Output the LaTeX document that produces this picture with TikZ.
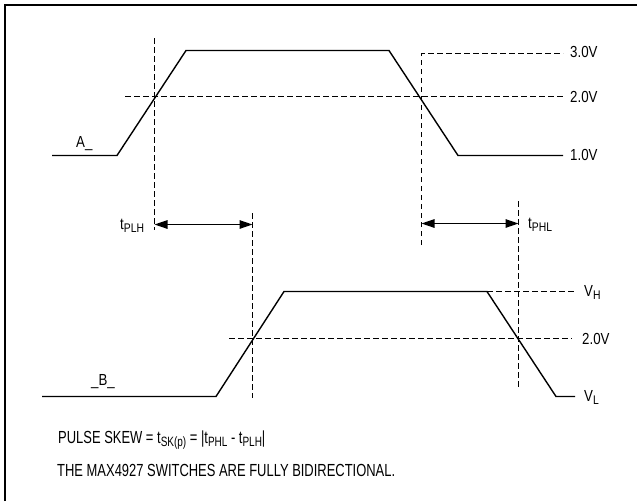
\documentclass[tikz,border=0pt]{standalone}
\usepackage{fontspec}
\setmainfont{Liberation Sans}
\newfontfamily\labfont[FakeStretch=0.83]{Liberation Sans}
\newfontfamily\notefont[FakeStretch=0.74]{Liberation Sans}
\usetikzlibrary{arrows.meta}
\newcommand\lsub[1]{\raisebox{-3pt}{\fontsize{12.5}{13}\selectfont #1}}
\newcommand\nsub[1]{\raisebox{-3pt}{\fontsize{13.5}{14}\selectfont #1}}
\tikzset{
  wave/.style={line width=1.4pt, line join=miter},
  guide/.style={line width=1.5pt, dash pattern=on 5.5pt off 3.5pt},
  frameline/.style={line width=2pt},
  span/.style={line width=1.3pt, {Triangle[length=13pt,width=8.5pt]}-{Triangle[length=13pt,width=8.5pt]}},
  lab/.style={anchor=base west, inner sep=0pt, font=\labfont\fontsize{16}{17}\selectfont},
  note/.style={anchor=base west, inner sep=0pt, font=\notefont\fontsize{17.5}{18}\selectfont},
}
\begin{document}
\begin{tikzpicture}[x=1pt,y=-1pt]
\useasboundingbox (0,0) rectangle (637,501);
% frame (top and left edges)
\draw[frameline] (5,501) -- (5,5) -- (637,5);
% signal A
\draw[wave] (52,155.5) -- (117,155.5) -- (186,50.5) -- (389,50.5) -- (458,155.5) -- (563,155.5);
% signal B
\draw[wave] (42,396.5) -- (216,396.5) -- (284,291.5) -- (487,291.5) -- (556,396.5) -- (575,396.5);
% guides for A
\draw[guide] (125,96.5) -- (563,96.5);
\draw[guide] (421.5,245) -- (421.5,53.5) -- (563,53.5);
\draw[guide] (154.5,38) -- (154.5,230);
% guides for B
\draw[guide] (252.5,213) -- (252.5,398);
\draw[guide] (518.5,201) -- (518.5,387);
\draw[guide] (487,291.5) -- (575,291.5);
\draw[guide] (229,338.5) -- (572,338.5);
% timing arrows
\coordinate (plhA) at (154.5,224.5);
\coordinate (plhB) at (252.5,224.5);
\coordinate (phlA) at (421.5,223.5);
\coordinate (phlB) at (518.5,223.5);
\draw[span] (plhA) -- (plhB);
\draw[span] (phlA) -- (phlB);
% labels
\node[lab] (v3) at (570,57.5) {3.0V};
\node[lab] (v2a) at (570,102) {2.0V};
\node[lab] (v1) at (570,160.5) {1.0V};
\node[lab] (vh) at (584,296.5) {V\lsub{H}};
\node[lab] (v2b) at (582,344.5) {2.0V};
\node[lab] (vl) at (584,401.5) {V\lsub{L}};
\node[lab] (la) at (76,147) {A\_};
\node[lab] (lb) at (91,385) {\_B\_};
\node[lab] (tplh) at (120,229) {t\lsub{PLH}};
\node[lab] (tphl) at (528,228) {t\lsub{PHL}};
\node[note] (skew) at (58,443) {PULSE SKEW = t\nsub{SK(p)} = |t\nsub{PHL} - t\nsub{PLH}|};
\node[note] (bidir) at (57,476) {THE MAX4927 SWITCHES ARE FULLY BIDIRECTIONAL.};
\end{tikzpicture}
\end{document}
